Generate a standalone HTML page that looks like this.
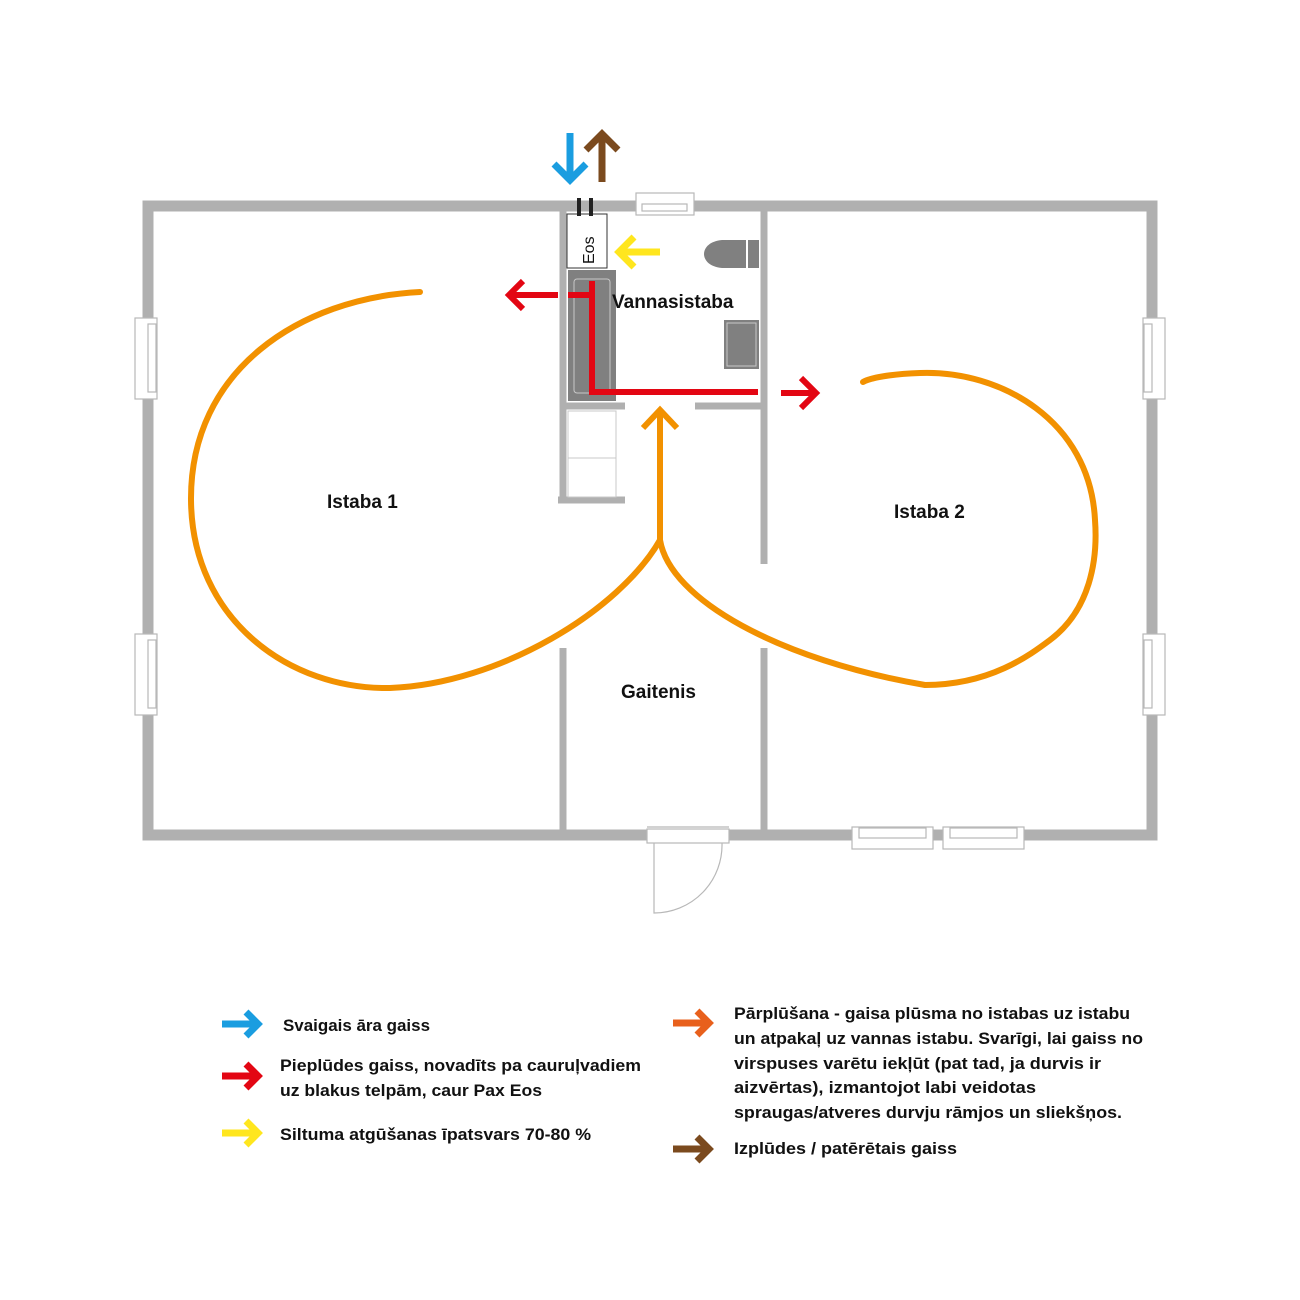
<!DOCTYPE html>
<html><head><meta charset="utf-8"><style>
body{margin:0;background:#fff}
svg{display:block}
text{font-family:"Liberation Sans",sans-serif;font-weight:bold;fill:#111}
</style></head><body>
<svg width="1300" height="1300" viewBox="0 0 1300 1300" xmlns="http://www.w3.org/2000/svg">
<rect x="148" y="206" width="1004" height="629" fill="none" stroke="#b0b0b0" stroke-width="11"/>
<g stroke="#b0b0b0" stroke-width="7" fill="none">
<line x1="563" y1="207" x2="563" y2="500"/>
<line x1="558" y1="500" x2="625" y2="500"/>
<line x1="764" y1="207" x2="764" y2="564"/>
<line x1="563" y1="648" x2="563" y2="835"/>
<line x1="764" y1="648" x2="764" y2="835"/>
<line x1="563" y1="406" x2="625" y2="406"/>
<line x1="695" y1="406" x2="764" y2="406"/>
</g>
<rect x="568" y="411" width="48" height="86" fill="#fff" stroke="#c8c8c8" stroke-width="1"/>
<line x1="568" y1="458" x2="616" y2="458" stroke="#c8c8c8"/>
<g fill="#fff" stroke="#b8b8b8" stroke-width="1.2">
<rect x="636" y="193" width="58" height="22"/><rect x="642" y="204" width="45" height="7"/>
<rect x="135" y="318" width="22" height="81"/><rect x="148" y="324" width="8" height="68"/>
<rect x="135" y="634" width="22" height="81"/><rect x="148" y="640" width="8" height="68"/>
<rect x="1143" y="318" width="22" height="81"/><rect x="1144" y="324" width="8" height="68"/>
<rect x="1143" y="634" width="22" height="81"/><rect x="1144" y="640" width="8" height="68"/>
<rect x="852" y="827" width="81" height="22"/><rect x="859" y="828" width="67" height="10"/>
<rect x="943" y="827" width="81" height="22"/><rect x="950" y="828" width="67" height="10"/>
<rect x="647" y="829" width="82" height="14"/>
<line x1="647" y1="827" x2="729" y2="827"/>
<path d="M654 843 V913 A68 68 0 0 0 722 843" fill="none"/>
</g>
<rect x="567" y="214" width="40" height="54" fill="#fff" stroke="#333" stroke-width="1"/>
<text x="0" y="0" transform="translate(594,264) rotate(-90)" style="font-weight:normal;font-size:16px">Eos</text>
<rect x="577" y="198" width="4" height="18" fill="#222"/><rect x="589" y="198" width="4" height="18" fill="#222"/>
<rect x="568" y="270" width="48" height="131" fill="#808080"/>
<rect x="574" y="279" width="36" height="114" rx="3" fill="none" stroke="#c8c8c8"/>
<path d="M746 240 H722 C698 242 698 266 722 268 H746 Z" fill="#808080"/>
<rect x="748" y="240" width="11" height="28" fill="#808080"/>
<rect x="724" y="320" width="35" height="49" fill="#808080"/>
<rect x="727" y="323" width="29" height="43" fill="none" stroke="#c8c8c8"/>
<g fill="none" stroke-width="7">
<path d="M570 133 V180 M554 164 L570 180 L586 164" stroke="#1a9de0"/>
<path d="M602 182 V135 M586 150 L602 134 L618 150" stroke="#7b4a1e"/>
<path d="M660 252 H618 M634 237 L619 252 L634 267" stroke="#ffe61e"/>
</g>
<g fill="none" stroke="#e30613" stroke-width="6">
<path d="M592 281 V392 H758"/>
<path d="M781 393 H815 M801 378 L816 393 L801 408"/>
<path d="M558 295 H509 M523 281 L509 295 L523 309"/>
<path d="M568 295 H592"/>
</g>
<g fill="none" stroke="#f29100" stroke-width="6" stroke-linecap="round">
<path d="M420 292 C300 298 190 370 191 500 C192 620 290 690 390 688 C500 684 620 610 660 540"/>
<path d="M660 540 C670 600 780 660 925 685 C990 685 1030 655 1050 640 C1090 610 1098 560 1095 520 C1090 420 1000 370 920 373 C890 374 870 378 863 382"/>
<path d="M660 540 V412" stroke-linecap="butt"/>
<path d="M643 428 L660 410 L677 428" stroke-linecap="butt"/>
</g>
<text x="612" y="308" style="font-size:19px">Vannasistaba</text>
<text x="327" y="508" style="font-size:19px">Istaba 1</text>
<text x="894" y="518" style="font-size:19px">Istaba 2</text>
<text x="621" y="698" style="font-size:19px">Gaitenis</text>
<g fill="none" stroke-width="7">
<path d="M222 1024 H254 M246 1012 L258 1024 L246 1036" stroke="#1a9de0"/>
<path d="M222 1076 H254 M246 1064 L258 1076 L246 1088" stroke="#e30613"/>
<path d="M222 1133 H254 M246 1121 L258 1133 L246 1145" stroke="#ffe61e"/>
<path d="M673 1023 H705 M697 1011 L709 1023 L697 1035" stroke="#e8601c"/>
<path d="M673 1149 H705 M697 1137 L709 1149 L697 1161" stroke="#7b4a1e"/>
</g>
<g style="font-size:17px">
<text x="283" y="1031" textLength="147" lengthAdjust="spacingAndGlyphs">Svaigais āra gaiss</text>
<text x="280" y="1071" textLength="361" lengthAdjust="spacingAndGlyphs">Pieplūdes gaiss, novadīts pa cauruļvadiem</text>
<text x="280" y="1096" textLength="262" lengthAdjust="spacingAndGlyphs">uz blakus telpām, caur Pax Eos</text>
<text x="280" y="1140" textLength="311" lengthAdjust="spacingAndGlyphs">Siltuma atgūšanas īpatsvars 70-80 %</text>
<text x="734" y="1019" textLength="396" lengthAdjust="spacingAndGlyphs">Pārplūšana - gaisa plūsma no istabas uz istabu</text>
<text x="734" y="1044" textLength="409" lengthAdjust="spacingAndGlyphs">un atpakaļ uz vannas istabu. Svarīgi, lai gaiss no</text>
<text x="734" y="1069" textLength="367" lengthAdjust="spacingAndGlyphs">virspuses varētu iekļūt (pat tad, ja durvis ir</text>
<text x="734" y="1093" textLength="302" lengthAdjust="spacingAndGlyphs">aizvērtas), izmantojot labi veidotas</text>
<text x="734" y="1118" textLength="388" lengthAdjust="spacingAndGlyphs">spraugas/atveres durvju rāmjos un sliekšņos.</text>
<text x="734" y="1154" textLength="223" lengthAdjust="spacingAndGlyphs">Izplūdes / patērētais gaiss</text>
</g>
</svg>
</body></html>
